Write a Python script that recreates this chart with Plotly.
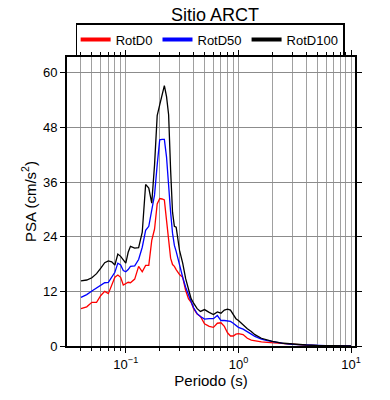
import plotly.graph_objects as go

periods = [0.040, 0.045, 0.050, 0.055, 0.060, 0.065, 0.070, 0.075, 0.080, 0.085,
           0.090, 0.095, 0.100, 0.105, 0.110, 0.120, 0.130, 0.140, 0.150, 0.160,
           0.170, 0.180, 0.190, 0.200, 0.210, 0.220, 0.230, 0.240, 0.250, 0.260,
           0.270, 0.280, 0.300, 0.320, 0.340, 0.360, 0.380, 0.400, 0.430, 0.460,
           0.500, 0.550, 0.600, 0.650, 0.700, 0.750, 0.800, 0.850, 0.900, 0.950,
           1.00, 1.10, 1.20, 1.30, 1.40, 1.60, 1.80, 2.00, 2.50, 3.00,
           4.00, 5.00, 6.0, 7.5, 10.0]

rotd100 = [14.3, 14.5, 15.0, 15.9, 17.1, 18.3, 18.7, 18.5, 17.8, 20.2,
           19.7, 18.9, 18.2, 20.6, 21.9, 21.5, 21.6, 25.0, 35.5, 34.7,
           31.4, 39.8, 50.6, 53.0, 55.2, 57.2, 54.8, 50.8, 38.7, 29.4,
           26.3, 26.1, 21.0, 18.2, 14.8, 12.2, 10.4, 9.4, 8.2, 7.6,
           8.0, 7.4, 6.9, 7.5, 7.2, 7.9, 8.1, 7.9, 6.9, 6.0,
           5.6, 4.6, 3.8, 3.2, 2.5, 1.7, 1.3, 1.0, 0.6, 0.4,
           0.22, 0.13, 0.08, 0.05, 0.03]

rotd50 = [10.7, 11.3, 12.1, 12.8, 13.3, 13.9, 14.0, 15.2, 16.2, 18.2,
          17.8, 16.6, 16.3, 16.8, 17.5, 17.6, 19.0, 21.7, 25.4, 26.3,
          29.8, 33.2, 39.8, 45.3, 45.4, 45.4, 41.5, 34.3, 29.4, 24.8,
          22.1, 20.8, 17.5, 15.1, 12.9, 11.1, 9.8, 8.4, 7.1, 6.5,
          5.9, 6.0, 6.0, 6.7, 5.6, 5.6, 5.5, 5.4, 5.0, 4.5,
          4.1, 3.7, 3.2, 2.6, 2.1, 1.5, 1.2, 0.95, 0.57, 0.37,
          0.2, 0.11, 0.07, 0.04, 0.02]

rotd0 = [8.2, 8.6, 9.6, 9.6, 11.1, 12.0, 11.5, 13.4, 15.1, 15.6,
         15.1, 13.4, 13.7, 14.0, 13.9, 14.7, 17.5, 16.3, 17.7, 17.7,
         23.2, 25.7, 31.2, 32.4, 32.3, 32.1, 27.6, 23.2, 19.3, 17.9,
         17.5, 16.8, 15.7, 15.1, 12.2, 10.4, 9.6, 8.2, 7.0, 6.5,
         4.9, 4.3, 4.1, 5.0, 5.1, 4.3, 2.9, 2.2, 2.2, 2.6,
         2.7, 2.5, 1.7, 1.3, 1.1, 0.9, 0.8, 0.7, 0.46, 0.33,
         0.18, 0.1, 0.07, 0.04, 0.02]

series_names = ["RotD0", "RotD50", "RotD100"]
series_colors = ["#ff0000", "#0000ff", "#000000"]
series_values = [rotd0, rotd50, rotd100]

y_ticks = [0, 12, 24, 36, 48, 60]
x_tickvals = [0.1, 1, 10]
x_ticktext = ["10<sup>\u22121</sup>", "10<sup>0</sup>", "10<sup>1</sup>"]

FONT = "Liberation Sans, Arial, Helvetica, sans-serif"

fig = go.Figure()
for name, color, vals in zip(series_names, series_colors, series_values):
    fig.add_trace(go.Scatter(x=periods, y=vals, mode="lines", name=name,
                             showlegend=False, legendgroup=name,
                             line=dict(color=color, width=1.3)))
# legend entries with thicker sample lines (no data drawn)
for name, color in zip(series_names, series_colors):
    fig.add_trace(go.Scatter(x=[None], y=[None], mode="lines", name=name,
                             legendgroup=name, showlegend=True,
                             line=dict(color=color, width=4)))

# page has an 8px body margin, so the figure is 8px smaller and margins shifted
fig.update_layout(
    width=382, height=392,
    margin=dict(l=59, r=35, t=49, b=54, autoexpand=False),
    paper_bgcolor="white", plot_bgcolor="white",
    font=dict(family=FONT, size=13, color="black"),
    title=dict(text="Sitio ARCT", x=0.542, xanchor="center", y=1.0, yanchor="top",
               pad=dict(t=0, b=0),
               font=dict(size=18, family=FONT, color="black")),
    showlegend=True,
    legend=dict(orientation="h", x=0.497, xanchor="center", y=1.003, yanchor="bottom",
                bordercolor="black", borderwidth=1.5, bgcolor="rgba(255,255,255,0)",
                itemwidth=30,
                font=dict(size=13, family=FONT, color="black"),
                tracegroupgap=0),
)

fig.update_xaxes(
    type="log", range=[-1.522, 1.035], automargin=False,
    tickvals=x_tickvals, ticktext=x_ticktext,
    ticks="outside", ticklen=5, tickcolor="black", tickwidth=1,
    showline=True, linecolor="black", linewidth=2, mirror="ticks",
    showgrid=True, gridcolor="#a0a0a0", gridwidth=1,
    minor=dict(ticks="outside", ticklen=3, tickcolor="black", showgrid=True,
               gridcolor="#a0a0a0", gridwidth=1,
               tickvals=[m * 10 ** e for e in (-2, -1, 0) for m in range(2, 10)]),
    title=dict(text="Periodo (s)", font=dict(size=15, family=FONT), standoff=0),
    tickfont=dict(size=13, family=FONT),
    zeroline=False,
)

fig.update_yaxes(
    range=[0, 63.5], tickvals=y_ticks, automargin=False,
    ticks="outside", ticklen=5, tickcolor="black", tickwidth=1,
    showline=True, linecolor="black", linewidth=2, mirror="ticks",
    showgrid=True, gridcolor="#8c8c8c", gridwidth=1,
    title=dict(text="PSA (cm/s<sup>2</sup>)", font=dict(size=15, family=FONT), standoff=3),
    tickfont=dict(size=13, family=FONT),
    zeroline=False,
)

fig.write_html("out.html")
